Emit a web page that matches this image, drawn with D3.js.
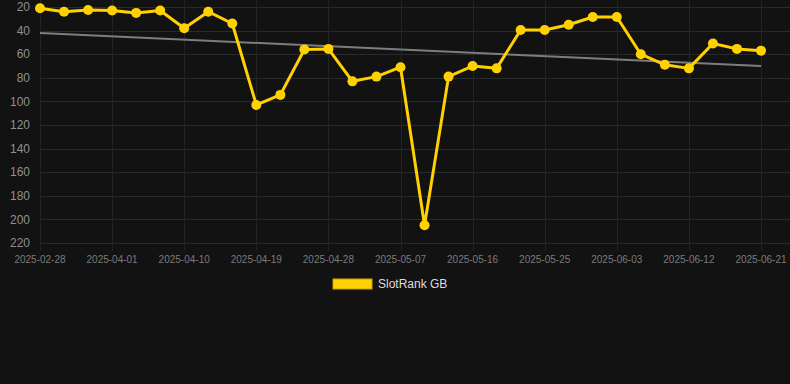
<!DOCTYPE html>
<html>
<head>
<meta charset="utf-8">
<script src="https://cdn.jsdelivr.net/npm/d3@7"></script>
<style>
    body { margin: 0; background: #121212; }
    svg { display: block; font-family: 'Liberation Sans', Arial, sans-serif; }
</style>
</head>
<body>
<div class="chart"></div>
<script>
var width = 790
var height = 384

var dates = ['2025-02-28', '2025-03-26', '2025-03-29', '2025-04-01', '2025-04-04', '2025-04-07',
    '2025-04-10', '2025-04-13', '2025-04-16', '2025-04-19', '2025-04-22', '2025-04-25',
    '2025-04-28', '2025-05-01', '2025-05-04', '2025-05-07', '2025-05-10', '2025-05-13',
    '2025-05-16', '2025-05-19', '2025-05-22', '2025-05-25', '2025-05-28', '2025-05-31',
    '2025-06-03', '2025-06-06', '2025-06-09', '2025-06-12', '2025-06-15', '2025-06-18',
    '2025-06-21']
var ranks = [21, 24, 22.5, 23, 25, 23, 38, 24, 34, 103, 94.5, 56, 55.5, 83, 79, 71,
    205, 79, 70, 72, 39.5, 39.5, 35, 28.5, 28.5, 60, 69, 72, 51, 55.5, 57]
var yTicks = [20, 40, 60, 80, 100, 120, 140, 160, 180, 200, 220]
var seriesName = 'SlotRank GB'

var plotLeft = 40, plotRight = 761, plotTop = 7, plotBottom = 243

var canvas = d3.select('.chart').append('svg')
    .attr('width', width)
    .attr('height', height)

canvas.append('rect')
    .attr('width', width)
    .attr('height', height)
    .attr('fill', '#121212')

var x = d3.scalePoint().domain(dates).range([plotLeft, plotRight])
var y = d3.scaleLinear().domain([20, 220]).range([plotTop, plotBottom])

// horizontal grid
canvas.append('g')
    .selectAll('line')
    .data(yTicks)
    .enter()
    .append('line')
    .attr('x1', plotLeft)
    .attr('x2', width)
    .attr('y1', function (d) { return Math.round(y(d)) + 0.5 })
    .attr('y2', function (d) { return Math.round(y(d)) + 0.5 })
    .attr('stroke', '#2a2a2a')
    .attr('stroke-width', 1)

// vertical grid, every third date
var labelDates = dates.filter(function (d, i) { return i % 3 === 0 })
canvas.append('g')
    .selectAll('line')
    .data(labelDates)
    .enter()
    .append('line')
    .attr('x1', function (d) { return Math.round(x(d)) + 0.5 })
    .attr('x2', function (d) { return Math.round(x(d)) + 0.5 })
    .attr('y1', 0)
    .attr('y2', plotBottom + 8)
    .attr('stroke', '#242424')
    .attr('stroke-width', 1)

// y labels
canvas.append('g')
    .selectAll('text')
    .data(yTicks)
    .enter()
    .append('text')
    .attr('x', 30)
    .attr('y', function (d) { return y(d) })
    .attr('dy', '0.35em')
    .attr('text-anchor', 'end')
    .attr('fill', '#909090')
    .attr('font-size', 12)
    .text(function (d) { return d })

// x labels
canvas.append('g')
    .selectAll('text')
    .data(labelDates)
    .enter()
    .append('text')
    .attr('x', function (d) { return x(d) })
    .attr('y', 263)
    .attr('text-anchor', 'middle')
    .attr('fill', '#7a7a7a')
    .attr('font-size', 10)
    .text(function (d) { return d })

// trend line (least squares over the index)
var n = ranks.length
var mx = d3.mean(ranks, function (d, i) { return i })
var my = d3.mean(ranks)
var sxy = d3.sum(ranks, function (d, i) { return (i - mx) * (d - my) })
var sxx = d3.sum(ranks, function (d, i) { return (i - mx) * (i - mx) })
var slope = sxy / sxx
var icpt = my - slope * mx

canvas.append('line')
    .attr('x1', x(dates[0]))
    .attr('x2', x(dates[n - 1]))
    .attr('y1', y(icpt))
    .attr('y2', y(icpt + slope * (n - 1)))
    .attr('stroke', '#7d7d7d')
    .attr('stroke-width', 2)

var line = d3.line()
    .x(function (d, i) { return x(dates[i]) })
    .y(function (d) { return y(d) })

canvas.append('path')
    .datum(ranks)
    .attr('d', line)
    .attr('fill', 'none')
    .attr('stroke', '#ffd100')
    .attr('stroke-width', 3)
    .attr('stroke-linejoin', 'round')

canvas.append('g')
    .selectAll('circle')
    .data(ranks)
    .enter()
    .append('circle')
    .attr('cx', function (d, i) { return x(dates[i]) })
    .attr('cy', function (d) { return y(d) })
    .attr('r', 5)
    .attr('fill', '#ffd100')

// legend
canvas.append('rect')
    .attr('x', 333)
    .attr('y', 279)
    .attr('width', 39)
    .attr('height', 10)
    .attr('fill', '#ffd100')
    .attr('stroke', '#c9a400')
    .attr('stroke-width', 1)

canvas.append('text')
    .attr('x', 378)
    .attr('y', 284)
    .attr('dy', '0.35em')
    .attr('fill', '#dddddd')
    .attr('font-size', 12)
    .text(seriesName)
</script>
</body>
</html>
